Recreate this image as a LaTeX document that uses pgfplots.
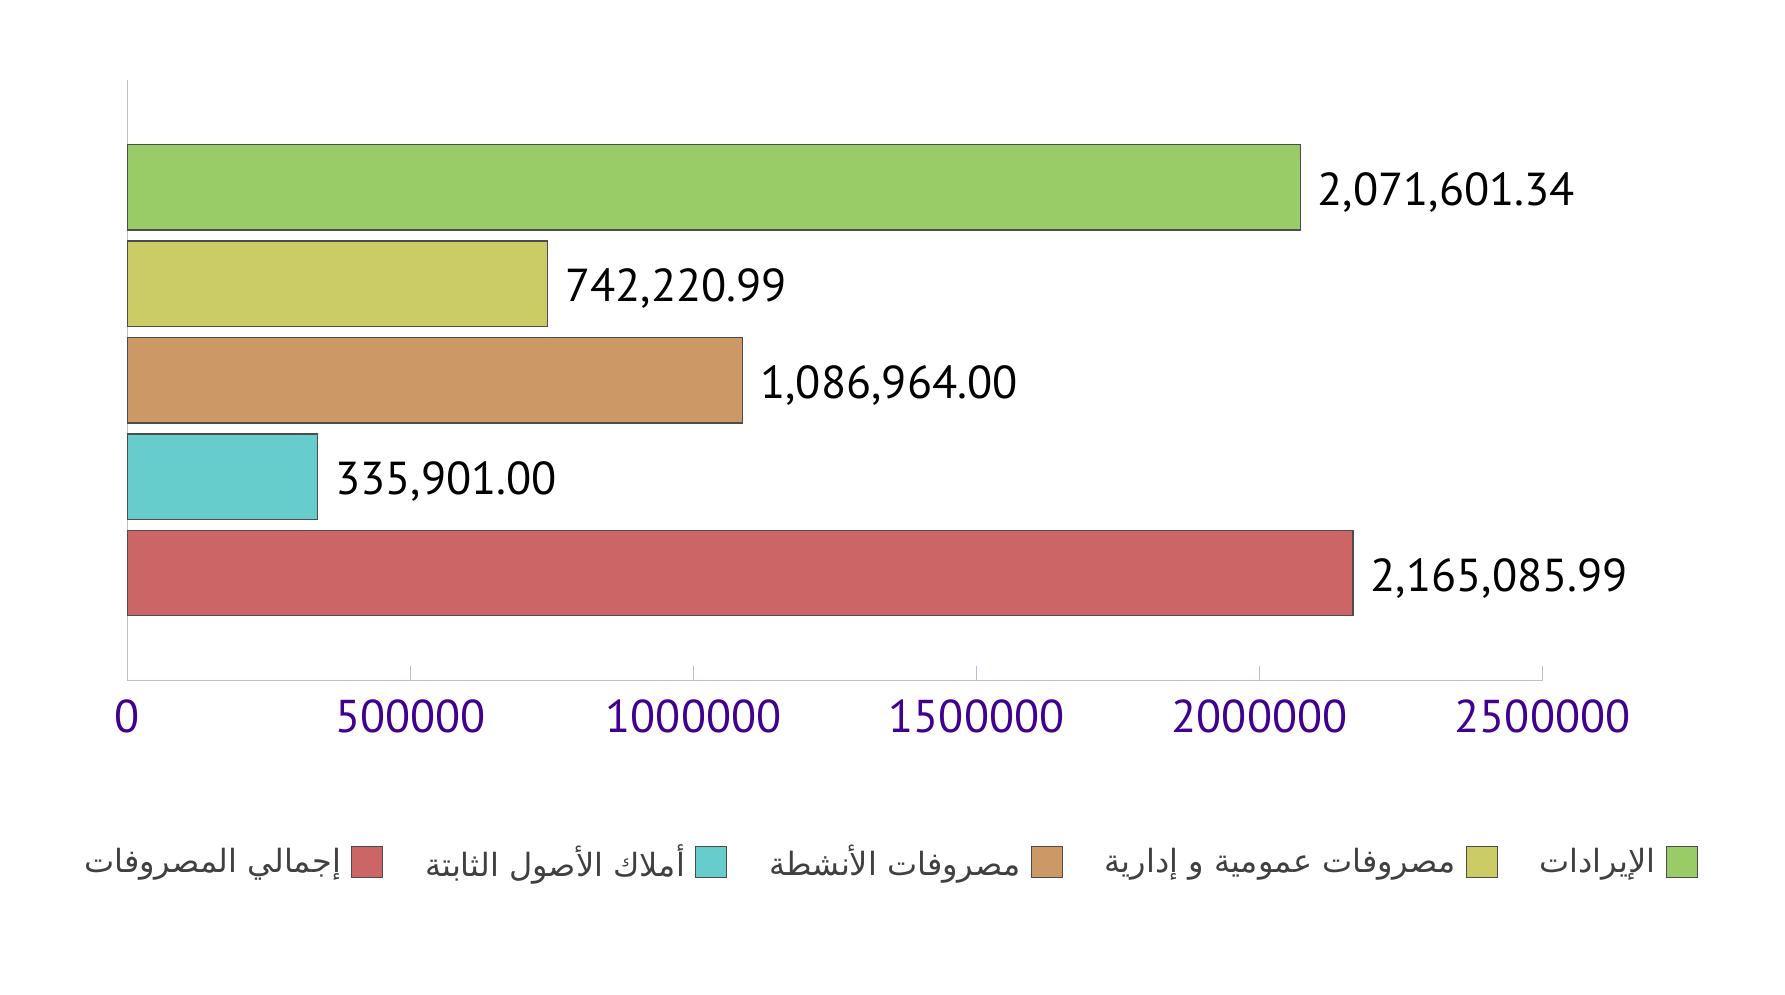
\documentclass[border=0pt]{standalone}
\usepackage{fontspec}
\setmainfont{PT Sans}
\newfontfamily\arabicfont[Script=Arabic]{DejaVu Sans}
\TeXXeTstate=1
\usepackage{pgfplots}
\pgfplotsset{compat=1.18}
\definecolor{cgreen}{HTML}{99CC66}
\definecolor{cyellow}{HTML}{CCCC66}
\definecolor{corange}{HTML}{CC9966}
\definecolor{ccyan}{HTML}{66CCCC}
\definecolor{cred}{HTML}{CC6666}
\definecolor{tickcol}{HTML}{400090}
\definecolor{xaxcol}{HTML}{C3B7DF}
\definecolor{legtext}{HTML}{404040}
\begin{document}
\begin{tikzpicture}
\begin{axis}[
    width=707.5pt, height=300.5pt, scale only axis,
    xbar, bar shift=0pt, bar width=0.885,
    xmin=0, xmax=2500000, ymin=-1.115, ymax=5.115,
    axis x line=bottom, axis y line=left,
    x axis line style={-, draw=xaxcol, line width=0.6pt},
    y axis line style={-, draw=black!25, line width=0.6pt},
    xtick={0,500000,1000000,1500000,2000000,2500000},
    ytick=\empty,
    tick align=inside, major tick length=7.5pt,
    xtick style={draw=xaxcol, line width=0.6pt},
    scaled x ticks=false,
    /pgf/number format/.cd, fixed, 1000 sep={}, assume math mode=true, /pgfplots/.cd,
    xticklabel style={font=\fontsize{23}{23}\selectfont, text=tickcol, yshift=-6pt},
    clip=false,
    nodes near coords style={anchor=west, inner sep=0pt, xshift=8.5pt, yshift=-2.5pt,
        font=\fontsize{23.1}{23.1}\selectfont, text=black},
    legend plot pos=right,
    legend columns=5,
    legend image code/.code={\draw[#1, line width=0.6pt] (0pt,-7.75pt) rectangle (15.5pt,7.75pt);},
    legend style={at={(axis description cs:0.5,0)}, anchor=center,
        xshift=27pt, yshift=-90.7pt, draw=none, fill=none,
        font=\arabicfont\fontsize{16}{16}\selectfont, text=legtext,
        column sep=3pt,
        /tikz/every even column/.append style={column sep=19pt}},
]
\addplot[fill=cred, draw=black!70, line width=0.6pt, nodes near coords={2,165,085.99}]
    coordinates {(2165085.99,0)};
\addlegendentry{\beginR إجمالي المصروفات\endR}
\addplot[fill=ccyan, draw=black!70, line width=0.6pt, nodes near coords={335,901.00}]
    coordinates {(335901.00,1)};
\addlegendentry{\beginR أملاك الأصول الثابتة\endR}
\addplot[fill=corange, draw=black!70, line width=0.6pt, nodes near coords={1,086,964.00}]
    coordinates {(1086964.00,2)};
\addlegendentry{\beginR مصروفات الأنشطة\endR}
\addplot[fill=cyellow, draw=black!70, line width=0.6pt, nodes near coords={742,220.99}]
    coordinates {(742220.99,3)};
\addlegendentry{\beginR مصروفات عمومية و إدارية\endR}
\addplot[fill=cgreen, draw=black!70, line width=0.6pt, nodes near coords={2,071,601.34}]
    coordinates {(2071601.34,4)};
\addlegendentry{\beginR الإيرادات\endR}
\end{axis}
\path ([xshift=-63.75pt,yshift=-157.1pt]current axis.south west)
    rectangle ([xshift=121.2pt,yshift=39.85pt]current axis.north east);
\end{tikzpicture}
\end{document}
